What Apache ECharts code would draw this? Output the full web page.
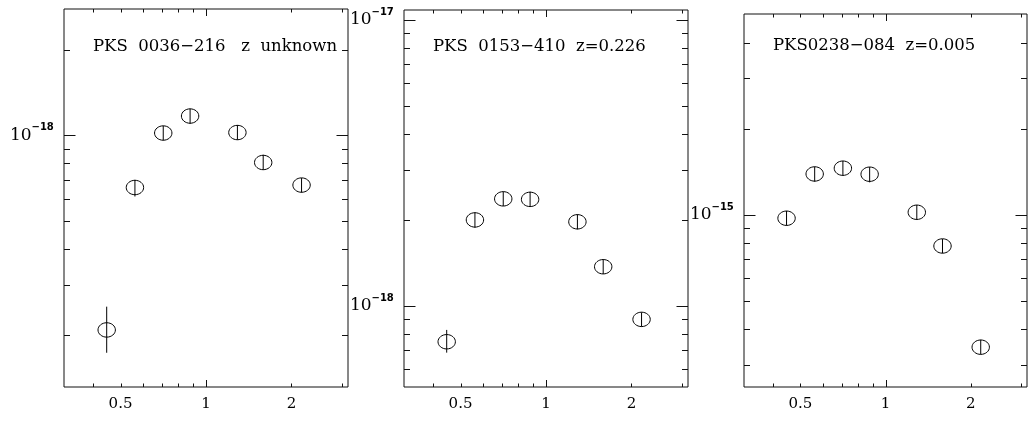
<!DOCTYPE html>
<html><head><meta charset="utf-8">
<script src="https://cdn.jsdelivr.net/npm/echarts@6/dist/echarts.min.js"></script>
<style>html,body{margin:0;padding:0;background:#fff}#c{width:1034px;height:424px}</style>
</head><body><div id="c"></div>
<script>
// ---------- data ----------
const wavelengths = [0.447, 0.562, 0.707, 0.879, 1.29, 1.59, 2.17];

const titles = ['PKS  0036\u2212216   z  unknown', 'PKS  0153\u2212410  z=0.226', 'PKS0238\u2212084  z=0.005'];

const flux1   = [2.08e-19, 6.57e-19, 1.02e-18, 1.17e-18, 1.024e-18, 8.04e-19, 6.70e-19];
const fluxLo1 = [1.73e-19, 6.11e-19, 0.961e-18, 1.099e-18, 0.966e-18, 7.58e-19, 6.31e-19];
const fluxHi1 = [2.51e-19, 6.99e-19, 1.081e-18, 1.241e-18, 1.088e-18, 8.56e-19, 7.09e-19];

const flux2   = [7.50e-19, 2.00e-18, 2.37e-18, 2.36e-18, 1.97e-18, 1.372e-18, 8.98e-19];
const fluxLo2 = [6.87e-19, 1.878e-18, 2.237e-18, 2.22e-18, 1.854e-18, 1.294e-18, 8.47e-19];
const fluxHi2 = [8.25e-19, 2.126e-18, 2.51e-18, 2.51e-18, 2.092e-18, 1.457e-18, 9.5e-19];

const flux3   = [9.74e-16, 1.391e-15, 1.457e-15, 1.388e-15, 1.022e-15, 7.79e-16, 3.45e-16];
const fluxLo3 = [9.18e-16, 1.307e-15, 1.372e-15, 1.30e-15, 9.6e-16, 7.35e-16, 3.26e-16];
const fluxHi3 = [1.033e-15, 1.475e-15, 1.545e-15, 1.47e-15, 1.084e-15, 8.24e-16, 3.66e-16];

const xRange = [0.3162, 3.1623];
const xMinorTicks = [0.4, 0.5, 0.6, 0.7, 0.8, 0.9, 2, 3];
const xMajorTicks = [1];
const xLabelValues = [0.5, 1, 2];
const xLabelTexts = ['0.5', '1', '2'];

const yRange1 = [1.312e-19, 2.777e-18];
const yMinor1 = [2e-19, 3e-19, 4e-19, 5e-19, 6e-19, 7e-19, 8e-19, 9e-19, 2e-18];
const yMajor1 = [1e-18];
const yLabelValues1 = [1e-18];
const yLabelExps1 = ['\u221218'];

const yRange2 = [5.21e-19, 1.084e-17];
const yMinor2 = [6e-19, 7e-19, 8e-19, 9e-19, 2e-18, 3e-18, 4e-18, 5e-18, 6e-18, 7e-18, 8e-18, 9e-18];
const yMajor2 = [1e-18, 1e-17];
const yLabelValues2 = [1e-18, 1e-17];
const yLabelExps2 = ['\u221218', '\u221217'];

const yRange3 = [2.504e-16, 5.04e-15];
const yMinor3 = [3e-16, 4e-16, 5e-16, 6e-16, 7e-16, 8e-16, 9e-16, 2e-15, 3e-15, 4e-15];
const yMajor3 = [1e-15];
const yLabelValues3 = [1e-15];
const yLabelExps3 = ['\u221215'];

// ---------- build ----------
const panels = [
  {grid: {left: 64, top: 9, width: 284, height: 378}, title: titles[0], titleLeft: 93, flux: flux1, lo: fluxLo1, hi: fluxHi1, yRange: yRange1, yMinor: yMinor1, yMajor: yMajor1, yLab: yLabelValues1, yExp: yLabelExps1},
  {grid: {left: 404, top: 10, width: 284, height: 377}, title: titles[1], titleLeft: 433, flux: flux2, lo: fluxLo2, hi: fluxHi2, yRange: yRange2, yMinor: yMinor2, yMajor: yMajor2, yLab: yLabelValues2, yExp: yLabelExps2},
  {grid: {left: 744, top: 14, width: 283, height: 373}, title: titles[2], titleLeft: 773, flux: flux3, lo: fluxLo3, hi: fluxHi3, yRange: yRange3, yMinor: yMinor3, yMajor: yMajor3, yLab: yLabelValues3, yExp: yLabelExps3}
];

const INK = '#111';
const SERIF = '"DejaVu Serif", serif';

const option = {
  animation: false,
  backgroundColor: '#fff',
  title: [], grid: [], xAxis: [], yAxis: [], series: []
};

panels.forEach((p, i) => {
  option.grid.push(Object.assign({show: true, borderColor: INK, borderWidth: 1, backgroundColor: 'transparent'}, p.grid));
  option.title.push({text: p.title, left: p.titleLeft, top: 38 + (i === 2 ? -1 : 0), padding: 0,
    textStyle: {fontFamily: SERIF, fontSize: 16.5, fontWeight: 'normal', color: '#000'}});
  const hidden = {axisLine: {show: false}, axisTick: {show: false}, axisLabel: {show: false}, splitLine: {show: false}};
  option.xAxis.push(Object.assign({type: 'log', logBase: 10, gridIndex: i, min: xRange[0], max: xRange[1]}, hidden));
  option.yAxis.push(Object.assign({type: 'log', logBase: 10, gridIndex: i, min: p.yRange[0], max: p.yRange[1]}, hidden));

  // ticks: [x, y, isY, major]
  const tickData = [];
  xMinorTicks.forEach(v => tickData.push([v, p.yRange[0], 0, 0]));
  xMajorTicks.forEach(v => tickData.push([v, p.yRange[0], 0, 1]));
  p.yMinor.forEach(v => tickData.push([xRange[0], v, 1, 0]));
  p.yMajor.forEach(v => tickData.push([xRange[0], v, 1, 1]));
  option.series.push({
    type: 'custom', xAxisIndex: i, yAxisIndex: i, clip: false, silent: true,
    encode: {x: 0, y: 1}, data: tickData,
    renderItem: (params, api) => {
      const cs = params.coordSys;
      const pt = api.coord([api.value(0), api.value(1)]);
      const isY = api.value(2), major = api.value(3);
      const st = {stroke: INK, lineWidth: 1};
      if (!isY) {
        const len = major ? 7 : 3.5, x = Math.round(pt[0]) + 0.5;
        const b = cs.y + cs.height, t = cs.y;
        return {type: 'group', children: [
          {type: 'line', shape: {x1: x, y1: b, x2: x, y2: b - len}, style: st},
          {type: 'line', shape: {x1: x, y1: t, x2: x, y2: t + len}, style: st}
        ]};
      }
      const len = major ? 11.5 : 6, y = Math.round(pt[1]) + 0.5;
      const l = cs.x, r = cs.x + cs.width;
      return {type: 'group', children: [
        {type: 'line', shape: {x1: l, y1: y, x2: l + len, y2: y}, style: st},
        {type: 'line', shape: {x1: r, y1: y, x2: r - len, y2: y}, style: st}
      ]};
    }
  });

  // x tick labels
  option.series.push({
    type: 'custom', xAxisIndex: i, yAxisIndex: i, clip: false, silent: true,
    encode: {x: 0, y: 1}, data: xLabelValues.map((v, k) => [v, p.yRange[0], k]),
    renderItem: (params, api) => {
      const cs = params.coordSys;
      const pt = api.coord([api.value(0), api.value(1)]);
      return {type: 'text', x: pt[0], y: cs.y + cs.height + 17,
        style: {text: xLabelTexts[api.value(2)], font: '15px ' + SERIF, fill: '#000',
          align: 'center', verticalAlign: 'middle', textAlign: 'center', textVerticalAlign: 'middle'}};
    }
  });

  // y tick labels (10 with exponent)
  const exps = p.yExp;
  option.series.push({
    type: 'custom', xAxisIndex: i, yAxisIndex: i, clip: false, silent: true,
    encode: {x: 0, y: 1}, data: p.yLab.map((v, k) => [xRange[0], v, k]),
    renderItem: (params, api) => {
      const cs = params.coordSys;
      const pt = api.coord([api.value(0), api.value(1)]);
      const x0 = cs.x - 54;
      return {type: 'group', children: [
        {type: 'text', x: x0, y: pt[1], style: {text: '10', font: '17px ' + SERIF, fill: '#000',
          align: 'left', verticalAlign: 'middle', textAlign: 'left', textVerticalAlign: 'middle'}},
        {type: 'text', x: x0 + 21.5, y: pt[1] - 8, style: {text: exps[api.value(2)], font: 'bold 10px "DejaVu Sans", sans-serif', fill: '#000',
          align: 'left', verticalAlign: 'middle', textAlign: 'left', textVerticalAlign: 'middle'}}
      ]};
    }
  });

  // data points with error bars
  option.series.push({
    type: 'custom', name: p.title, xAxisIndex: i, yAxisIndex: i, clip: false,
    encode: {x: 0, y: 1},
    data: wavelengths.map((w, k) => [w, p.flux[k], p.lo[k], p.hi[k]]),
    renderItem: (params, api) => {
      const x = api.value(0);
      const c = api.coord([x, api.value(1)]);
      const lo = api.coord([x, api.value(2)]);
      const hi = api.coord([x, api.value(3)]);
      const st = {stroke: '#000', lineWidth: 1, fill: null};
      return {type: 'group', children: [
        {type: 'ellipse', shape: {cx: c[0], cy: c[1], rx: 8.7, ry: 7.2}, style: {stroke: '#000', lineWidth: 1, fill: 'rgba(0,0,0,0)'}},
        {type: 'line', shape: {x1: c[0], y1: lo[1], x2: c[0], y2: hi[1]}, style: st}
      ]};
    }
  });
});

const chart = echarts.init(document.getElementById('c'), null, {renderer: 'canvas'});
chart.setOption(option);
</script>
</body></html>
